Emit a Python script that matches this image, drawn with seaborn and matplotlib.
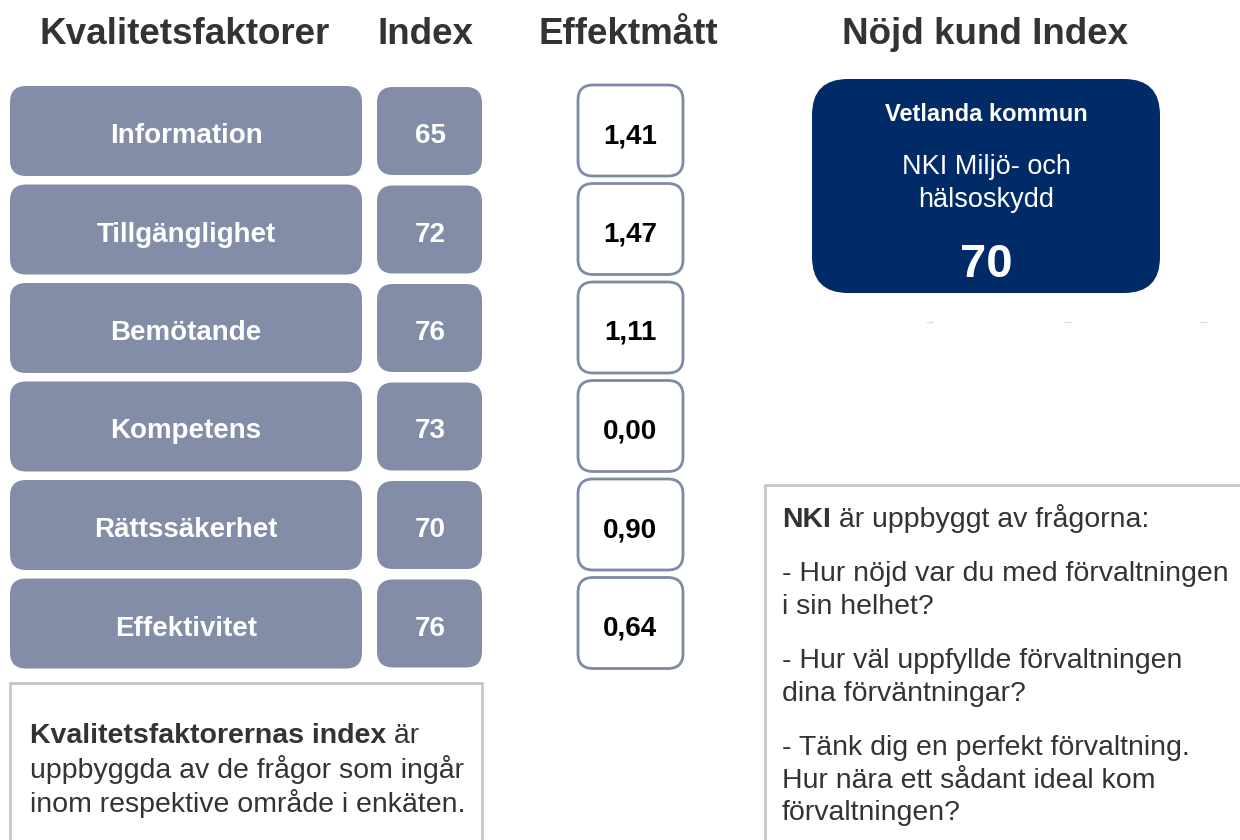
import matplotlib
matplotlib.use("Agg")
import matplotlib.pyplot as plt
from matplotlib.patches import FancyBboxPatch
import seaborn as sns

# data
factors = ["Information", "Tillgänglighet", "Bemötande", "Kompetens", "Rättssäkerhet", "Effektivitet"]
index_values = [65, 72, 76, 73, 70, 76]
effect_values = [1.41, 1.47, 1.11, 0.00, 0.90, 0.64]
headers = ["Kvalitetsfaktorer", "Index", "Effektmått", "Nöjd kund Index"]
org_name = "Vetlanda kommun"
nki_label = ["NKI Miljö- och", "hälsoskydd"]
nki_value = 70
left_note_bold = "Kvalitetsfaktorernas index"
left_note_rest = [" är", "uppbyggda av de frågor som ingår", "inom respektive område i enkäten."]
right_note_bold = "NKI"
right_note_rest = " är uppbyggt av frågorna:"
right_note_lines = [
    ["- Hur nöjd var du med förvaltningen", "i sin helhet?"],
    ["- Hur väl uppfyllde förvaltningen", "dina förväntningar?"],
    ["- Tänk dig en perfekt förvaltning.", "Hur nära ett sådant ideal kom", "förvaltningen?"],
]

sns.set_theme(style="white")
plt.rcParams["font.family"] = ["Liberation Sans", "DejaVu Sans"]

box_fill = "#848DA8"
dark_blue = "#002B66"
text_dark = "#333333"

fig = plt.figure(figsize=(12.4, 8.4), dpi=100)
ax = fig.add_axes([0, 0, 1, 1])
ax.set_xlim(0, 1240)
ax.set_ylim(840, 0)
ax.axis("off")


def rbox(x, y, w, h, r, fc, ec="none", lw=0):
    p = FancyBboxPatch((x, y), w, h, boxstyle=f"round,pad=0,rounding_size={r}",
                       fc=fc, ec=ec, lw=lw)
    ax.add_patch(p)


# headers
header_x = [185, 425, 628, 985]
for hx, h in zip(header_x, headers):
    ax.text(hx, 31, h, ha="center", va="center_baseline", fontsize=26.5, fontweight="bold", color=text_dark)

# rows
top0, pitch = 86, 98.5
for i, (f, iv, ev) in enumerate(zip(factors, index_values, effect_values)):
    top = top0 + i * pitch
    cy = top + 47
    rbox(10, top, 352, 90, 16, box_fill)
    ax.text(186, cy, f, ha="center", va="center_baseline", fontsize=20, fontweight="bold", color="white")
    rbox(377, top + 1, 105, 88, 16, box_fill)
    ax.text(430, cy, str(iv), ha="center", va="center_baseline", fontsize=20, fontweight="bold", color="white")
    rbox(578, top - 1, 105, 91, 15, "white", ec="#7F8AA8", lw=2)
    ax.text(630, cy, f"{ev:.2f}".replace(".", ","), ha="center", va="center_baseline",
            fontsize=20, fontweight="bold", color="black")

# NKI box
rbox(812, 79, 348, 214, 36, dark_blue)
ax.text(986, 112, org_name, ha="center", va="center_baseline", fontsize=17, fontweight="bold", color="white")
for j, line in enumerate(nki_label):
    ax.text(986, 164 + j * 33, line, ha="center", va="center_baseline", fontsize=19.5, color="white")
ax.text(986, 260, str(nki_value), ha="center", va="center_baseline", fontsize=34, fontweight="bold", color="white")

# faint specks under NKI box
for sx in [930, 1068, 1203]:
    ax.plot([sx - 3, sx + 3], [322, 322], color="#dddddd", lw=1)

# note boxes
ax.add_patch(plt.Rectangle((10, 683), 472, 180, fc="white", ec="#c6c6c6", lw=2))
ax.add_patch(plt.Rectangle((765, 485), 500, 380, fc="white", ec="#c6c6c6", lw=2))

fs = 20.5
t = ax.text(30, 733, left_note_bold, ha="left", va="center_baseline", fontsize=fs, fontweight="bold", color=text_dark)
ax.annotate(left_note_rest[0], xy=(1, 0), xycoords=t, va="bottom", ha="left", fontsize=fs, color=text_dark)
ax.text(30, 767, left_note_rest[1], ha="left", va="center_baseline", fontsize=fs, color=text_dark)
ax.text(30, 800, left_note_rest[2], ha="left", va="center_baseline", fontsize=fs, color=text_dark)

t = ax.text(782, 517, right_note_bold, ha="left", va="center_baseline", fontsize=fs, fontweight="bold", color=text_dark)
ax.annotate(right_note_rest, xy=(1, 0), xycoords=t, va="bottom", ha="left", fontsize=fs, color=text_dark)
block_y = [571, 658, 745]
for y0, lines in zip(block_y, right_note_lines):
    for j, line in enumerate(lines):
        ax.text(782, y0 + j * 32.7, line, ha="left", va="center_baseline", fontsize=fs, color=text_dark)

fig.savefig("out.png", dpi=100)
